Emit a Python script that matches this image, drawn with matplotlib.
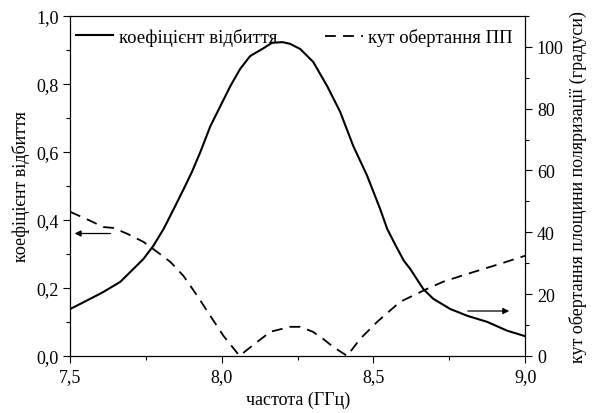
import matplotlib.pyplot as plt
import matplotlib.ticker as mticker

plt.rcParams['font.family'] = ['Liberation Serif', 'DejaVu Serif']

# коефіцієнт відбиття (ліва вісь)
freq_r = [7.5, 7.566, 7.609, 7.665, 7.698, 7.741, 7.774, 7.808, 7.841, 7.874,
          7.901, 7.929, 7.962, 7.995, 8.028, 8.06, 8.093, 8.137, 8.165, 8.20,
          8.225, 8.258, 8.301, 8.347, 8.39, 8.433, 8.479, 8.522, 8.545, 8.57,
          8.60, 8.621, 8.664, 8.697, 8.753, 8.809, 8.875, 8.941, 9.0]
refl = [0.138, 0.168, 0.188, 0.218, 0.247, 0.285, 0.324, 0.374, 0.432, 0.491,
        0.541, 0.60, 0.676, 0.735, 0.794, 0.844, 0.882, 0.905, 0.921, 0.923,
        0.918, 0.903, 0.865, 0.794, 0.718, 0.618, 0.53, 0.432, 0.374, 0.33,
        0.28, 0.256, 0.197, 0.168, 0.138, 0.118, 0.10, 0.074, 0.058]

# кут обертання ПП (права вісь, градуси)
freq_a = [7.5, 7.566, 7.609, 7.642, 7.688, 7.741, 7.787, 7.83, 7.873, 7.919,
          7.962, 8.005, 8.058, 8.103, 8.16, 8.225, 8.258, 8.30, 8.334, 8.367,
          8.413, 8.456, 8.512, 8.588, 8.677, 8.73, 8.809, 8.918, 9.0]
angle = [46.6, 43.7, 41.7, 41.4, 39.5, 36.9, 33.6, 30.4, 25.9, 19.4,
         12.9, 6.5, 0.0, 3.5, 7.8, 9.4, 9.4, 7.8, 5.5, 2.9,
         0.0, 5.5, 11.0, 17.5, 21.7, 24.0, 26.5, 29.8, 32.4]

fig, ax = plt.subplots(figsize=(5.96, 4.14), dpi=100)
fig.subplots_adjust(left=0.118, right=0.881, top=0.959, bottom=0.138)
ax2 = ax.twinx()

l1, = ax.plot(freq_r, refl, color='black', lw=1.5, label='коефіцієнт відбиття')
l2, = ax2.plot(freq_a, angle, color='black', lw=1.3, ls=(0, (6, 4)),
               label='кут обертання ПП')

ax.set_xlim(7.5, 9.0)
ax.set_ylim(0, 1.0)
ax2.set_ylim(0, 110)

comma = mticker.FuncFormatter(lambda v, p: f'{v:.1f}'.replace('.', ','))
ax.xaxis.set_major_locator(mticker.MultipleLocator(0.5))
ax.xaxis.set_minor_locator(mticker.MultipleLocator(0.25))
ax.xaxis.set_major_formatter(comma)
ax.yaxis.set_major_locator(mticker.MultipleLocator(0.2))
ax.yaxis.set_minor_locator(mticker.MultipleLocator(0.1))
ax.yaxis.set_major_formatter(comma)
ax2.yaxis.set_major_locator(mticker.MultipleLocator(20))
ax2.yaxis.set_minor_locator(mticker.MultipleLocator(10))

for a in (ax, ax2):
    a.tick_params(which='major', length=5, width=0.8, labelsize=13, direction='out')
    a.tick_params(which='minor', length=3, width=0.8, direction='out')

ax.set_xlabel('частота (ГГц)', fontsize=13)
ax.set_ylabel('коефіцієнт відбиття', fontsize=13)
ax2.set_ylabel('кут обертання площини поляризації (градуси)', fontsize=13)

# стрілки, що вказують на відповідні осі
ax.annotate('', xy=(7.505, 0.36), xytext=(7.642, 0.36),
            arrowprops=dict(arrowstyle='-|>', color='black', lw=0.9, mutation_scale=9))
ax.annotate('', xy=(8.957, 0.132), xytext=(8.802, 0.132),
            arrowprops=dict(arrowstyle='-|>', color='black', lw=0.9, mutation_scale=9))

# дві окремі легенди: ліворуч і праворуч угорі
leg_kw = dict(frameon=False, fontsize=13.5, handlelength=2.0,
              handletextpad=0.3, borderpad=0.2)
leg1 = ax2.legend(handles=[l1], loc='upper left', bbox_to_anchor=(0.0, 0.981),
                  borderaxespad=0.1, **leg_kw)
ax2.add_artist(leg1)
ax2.legend(handles=[l2], loc='upper right', borderaxespad=0.45, **leg_kw)

plt.savefig('out.png', dpi=100)
